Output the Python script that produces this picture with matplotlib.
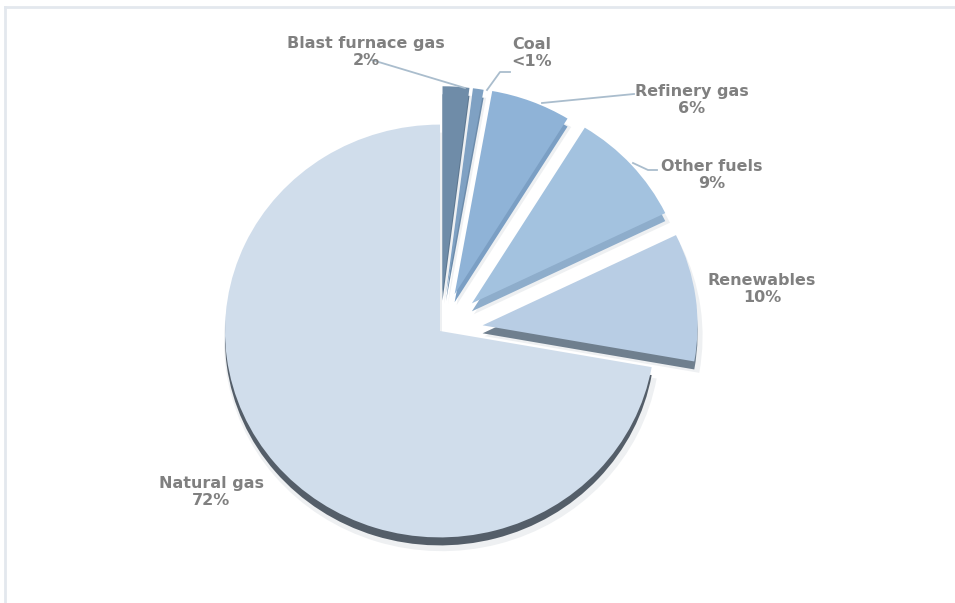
import numpy as np
import matplotlib.pyplot as plt

labels = ['Blast furnace gas', 'Coal', 'Refinery gas', 'Other fuels', 'Renewables', 'Natural gas']
shares = [2, 0.8, 6, 9, 10, 72.2]
pct_text = ['2%', '<1%', '6%', '9%', '10%', '72%']

top_colors = ['#6f8ca8', '#7fa1c3', '#8fb3d7', '#a3c2df', '#b8cde4', '#d0ddeb']
side_colors = ['#5d7790', '#6d8cab', '#7b9fc4', '#8eadcb', '#6f7f8e', '#545e69']
explode = [40, 40, 41, 43, 43, 0]  # offsets in data units

W, H = 955, 603
k = 0.96  # vertical squash for the tilted look
fig = plt.figure(figsize=(W / 100, H / 100), dpi=100)
ax = fig.add_axes([0, 0, 1, 1])

def Y(y):
    return (H - y) / k

cx, cy, r = 440, 331, 215
depth = 8 / k

# soft shadow
ax.pie(shares, radius=r + 3, center=(cx + 2, Y(cy) - depth - 3), startangle=90, counterclock=False,
       explode=explode, colors=['#eef0f2'] * 6, wedgeprops=dict(linewidth=0), frame=True)
# side (thickness)
ax.pie(shares, radius=r, center=(cx, Y(cy) - depth), startangle=90, counterclock=False,
       explode=explode, colors=side_colors, wedgeprops=dict(linewidth=0), frame=True)
# top surface
ax.pie(shares, radius=r, center=(cx, Y(cy)), startangle=90, counterclock=False,
       explode=explode, colors=top_colors, wedgeprops=dict(linewidth=0), frame=True)

ax.set_aspect('auto')
ax.set_xlim(0, W)
ax.set_ylim(0, H / k)
ax.axis('off')

# frame lines
ax.plot([5, 5], [Y(7), 0], color='#e3e8ee', lw=2)
ax.plot([5, W], [Y(7), Y(7)], color='#e3e8ee', lw=2)

tcol = '#808080'
font = dict(family=['DejaVu Sans'], fontsize=11.5, fontweight='bold', color=tcol,
            ha='center', va='center', linespacing=1.15)
pos = [(366, 52), (532, 53), (692, 100), (712, 175), (762, 289), (211, 492)]
for lab, p, (x, y) in zip(labels, pct_text, pos):
    ax.text(x, Y(y), lab + '\n' + p, **font)

lcol = '#aabdcd'
leaders = [
    [(372, 60), (465, 88)],
    [(510, 72), (500, 72), (487, 90)],
    [(634, 94), (542, 103)],
    [(657, 170), (648, 170), (633, 163)],
]
for pts in leaders:
    xs = [p[0] for p in pts]
    ys = [Y(p[1]) for p in pts]
    ax.plot(xs, ys, color=lcol, lw=1.3)

fig.savefig('out.png', dpi=100)
